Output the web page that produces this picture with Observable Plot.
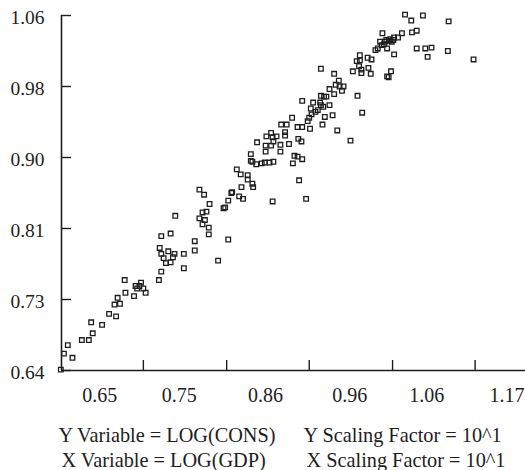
<!DOCTYPE html>
<html>
<head>
<meta charset="utf-8">
<script src="https://cdn.jsdelivr.net/npm/d3@7"></script>
<script src="https://cdn.jsdelivr.net/npm/@observablehq/plot@0.6"></script>
<style>
  html, body { margin: 0; padding: 0; background: #fff; }
  #chart { width: 525px; height: 470px; }
  #chart svg, #chart svg text { font-family: "Liberation Serif", "Times New Roman", Times, serif !important; }
</style>
</head>
<body>
<div id="chart"></div>
<script>
// LOG(GDP) scaled by 10^1
const gdp = [
  0.599,0.603,0.608,0.614,0.626,0.635,0.640,0.638,0.652,0.661,
  0.670,0.668,0.675,0.672,0.682,0.681,0.693,0.695,0.697,0.700,
  0.702,0.705,0.708,0.725,0.728,0.726,0.728,0.731,0.734,0.737,
  0.740,0.743,0.745,0.757,0.757,0.771,0.771,0.801,0.728,0.740,
  0.746,0.777,0.783,0.790,0.781,0.786,0.777,0.784,0.781,0.789,
  0.789,0.814,0.808,0.810,0.814,0.818,0.819,0.828,0.833,0.831,
  0.825,0.830,0.839,0.839,0.845,0.846,0.871,0.905,0.914,0.843,
  0.843,0.845,0.850,0.857,0.861,0.867,0.872,0.862,0.862,0.869,
  0.851,0.863,0.869,0.871,0.876,0.872,0.881,0.881,0.887,0.887,
  0.892,0.904,0.908,0.899,0.903,0.909,0.897,0.919,0.896,0.882,
  0.889,0.903,0.909,0.916,0.918,0.921,0.920,0.909,0.923,0.926,
  0.929,0.932,0.933,0.937,0.940,0.933,0.936,0.944,0.938,0.935,
  0.948,0.954,0.971,0.944,0.950,0.952,0.956,0.957,0.962,0.960,
  0.933,0.950,0.974,0.980,0.986,0.983,0.979,0.983,0.982,0.985,
  0.985,0.994,0.997,0.998,0.993,1.018,1.020,1.023,1.012,1.037,
  1.027,1.032,1.015,1.017,1.020,1.022,1.024,1.026,1.014,1.009,
  1.011,1.006,1.003,1.018,1.027,1.056,1.067,1.075,1.070,1.096,
  1.129,1.041,1.049,1.064,1.097,1.050,1.056
];
// LOG(CONS) scaled by 10^1
const cons = [
  0.641,0.660,0.670,0.655,0.676,0.676,0.684,0.697,0.694,0.707,
  0.704,0.718,0.719,0.726,0.732,0.747,0.728,0.740,0.737,0.740,
  0.744,0.737,0.732,0.747,0.757,0.785,0.778,0.773,0.767,0.781,
  0.768,0.774,0.778,0.778,0.761,0.782,0.793,0.770,0.799,0.802,
  0.823,0.854,0.848,0.837,0.827,0.828,0.820,0.818,0.813,0.809,
  0.801,0.795,0.832,0.833,0.841,0.850,0.851,0.846,0.843,0.857,
  0.878,0.872,0.871,0.866,0.861,0.857,0.840,0.865,0.843,0.896,
  0.888,0.887,0.884,0.885,0.886,0.886,0.887,0.899,0.906,0.906,
  0.910,0.917,0.921,0.916,0.917,0.911,0.907,0.899,0.922,0.918,
  0.908,0.914,0.911,0.894,0.893,0.890,0.885,0.926,0.939,0.931,
  0.931,0.928,0.928,0.935,0.939,0.943,0.950,0.959,0.957,0.946,
  0.948,0.957,0.965,0.964,0.964,0.954,0.952,0.954,0.940,0.931,
  0.942,0.924,0.912,0.973,0.967,0.978,0.983,0.976,0.976,0.971,
  0.997,0.991,0.994,0.965,0.945,1.013,1.006,1.007,1.000,0.996,
  0.992,0.998,0.991,1.008,1.010,0.988,0.987,0.994,1.039,1.039,
  1.034,1.034,1.029,1.031,1.030,1.032,1.029,1.031,1.026,1.029,
  1.025,1.021,1.019,1.021,1.014,1.021,1.021,1.022,1.011,1.018,
  1.008,1.061,1.054,1.060,1.053,1.040,1.042
];

const xTicks = [0.705, 0.812, 0.918, 1.025, 1.131];
const xLabelAt = [0.649, 0.751, 0.862, 0.970, 1.069, 1.172];
const xLabels = ["0.65", "0.75", "0.86", "0.96", "1.06", "1.17"];
const yTicks = [0.64, 0.724, 0.808, 0.892, 0.976, 1.06];
const yLabels = ["0.64", "0.73", "0.81", "0.90", "0.98", "1.06"];
const captionLeft = ["Y Variable = LOG(CONS)", "X Variable = LOG(GDP)"];
const captionRight = ["Y Scaling Factor = 10^1", "X Scaling Factor = 10^1"];

const xDomain = [0.5999, 1.1957];
const yDomain = [0.64, 1.06];

const points = gdp.map((g, i) => ({gdp: g, cons: cons[i]}));
const xLabelMap = new Map(xLabelAt.map((v, i) => [v, xLabels[i]]));
const yLabelMap = new Map(yTicks.map((v, i) => [v, yLabels[i]]));
const ink = "#1e1e1e";
const serif = "Liberation Serif";

const caption = (txt, dx, dy) => Plot.text([txt], {
  frameAnchor: "bottom-left", textAnchor: "start", lineAnchor: "middle",
  dx, dy, fontSize: 20.3, fontFamily: serif, fill: ink
});

const chart = Plot.plot({
  width: 525,
  height: 470,
  marginTop: 15,
  marginRight: 0,
  marginBottom: 100,
  marginLeft: 61,
  style: {fontFamily: serif, color: ink, background: "#fff", overflow: "visible"},
  x: {domain: xDomain, axis: null},
  y: {domain: yDomain, axis: null},
  marks: [
    Plot.axisY(yTicks, {anchor: "left", tickSize: -10, tickFormat: () => "", label: null, strokeWidth: 1.4}),
    Plot.axisY(yTicks, {anchor: "left", tickSize: 0, tickPadding: 17, dy: 2, fontSize: 19.5, fontFamily: serif, tickFormat: d => yLabelMap.get(d), label: null}),
    Plot.axisX(xTicks, {anchor: "bottom", tickSize: -10, tickFormat: () => "", label: null, strokeWidth: 1.4}),
    Plot.axisX(xLabelAt, {anchor: "bottom", tickSize: 0, tickPadding: 17, fontSize: 20, fontFamily: serif, tickFormat: d => xLabelMap.get(d), label: null}),
    Plot.ruleX([xDomain[0]], {stroke: ink, strokeWidth: 1.6}),
    Plot.ruleY([yDomain[0]], {stroke: ink, strokeWidth: 1.6}),
    Plot.dot(points, {x: "gdp", y: "cons", symbol: "square", r: 2.6, stroke: ink, strokeWidth: 1.3, fill: "none"}),
    caption(captionLeft[0], -3, 64.5),
    caption(captionLeft[1], 0, 89.5),
    caption(captionRight[0], 242, 64.5),
    caption(captionRight[1], 245, 89.5)
  ]
});
document.getElementById("chart").appendChild(chart);
</script>
</body>
</html>
